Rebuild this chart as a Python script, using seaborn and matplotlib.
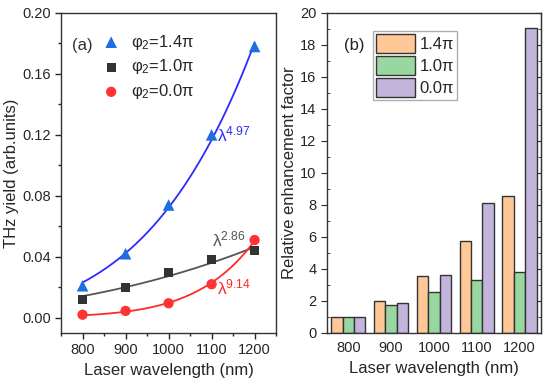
import numpy as np
import pandas as pd
import matplotlib
matplotlib.use('Agg')
import matplotlib.pyplot as plt
from matplotlib.ticker import MultipleLocator
import seaborn as sns

# Panel (a) data
wavelength = [800, 900, 1000, 1100, 1200]
yield_14 = [0.021, 0.042, 0.074, 0.120, 0.178]
yield_10 = [0.012, 0.020, 0.030, 0.038, 0.044]
yield_00 = [0.002, 0.0045, 0.0095, 0.022, 0.051]
exponents = [4.97, 2.86, 9.14]

# Panel (b) data
wl_labels = ['800', '900', '1000', '1100', '1200']
enh_14 = [1.0, 2.0, 3.55, 5.75, 8.55]
enh_10 = [1.0, 1.75, 2.55, 3.3, 3.8]
enh_00 = [1.0, 1.85, 3.65, 8.1, 19.05]
phase_labels = ['1.4π', '1.0π', '0.0π']

sns.set_style('ticks')
plt.rcParams['font.family'] = ['Liberation Sans', 'DejaVu Sans']
plt.rcParams['mathtext.default'] = 'regular'

fig = plt.figure(figsize=(5.5, 3.81), dpi=100)
ax1 = fig.add_axes([0.111, 0.126, 0.391, 0.840])
ax2 = fig.add_axes([0.5945, 0.126, 0.389, 0.840])

# ---- (a) THz yield ----
series = [
    ('φ$_2$=1.4π', yield_14, '^', '#1f6fe0', '#2b2bff', 70),
    ('φ$_2$=1.0π', yield_10, 's', '#333333', '#555555', 42),
    ('φ$_2$=0.0π', yield_00, 'o', '#ff3333', '#ff2a2a', 55),
]
lam = np.array(wavelength, dtype=float)
lam_fine = np.linspace(800, 1200, 200)
for (label, vals, mk, col, lcol, s), p in zip(series, exponents):
    # least-squares fit y = y0 + a * lambda^p with the given exponent
    A = np.column_stack([np.ones_like(lam), (lam / 1200.0) ** p])
    coef, *_ = np.linalg.lstsq(A, np.array(vals), rcond=None)
    fit = coef[0] + coef[1] * (lam_fine / 1200.0) ** p
    sns.lineplot(x=lam_fine, y=fit, ax=ax1, color=lcol, lw=1.3)
    sns.scatterplot(x=wavelength, y=vals, ax=ax1, marker=mk, color=col, s=s,
                    edgecolor='none', label=label, zorder=3)

ax1.set_xlim(750, 1250)
ax1.set_ylim(-0.01, 0.20)
ax1.xaxis.set_major_locator(MultipleLocator(100))
ax1.xaxis.set_minor_locator(MultipleLocator(50))
ax1.yaxis.set_major_locator(MultipleLocator(0.04))
ax1.yaxis.set_minor_locator(MultipleLocator(0.02))
ax1.yaxis.set_major_formatter(matplotlib.ticker.FormatStrFormatter('%.2f'))
ax1.tick_params(which='major', direction='out', length=4, width=1, labelsize=10.5)
ax1.tick_params(which='minor', direction='out', length=2.5, width=1)
ax1.set_xlabel('Laser wavelength (nm)', fontsize=12)
ax1.set_ylabel('THz yield (arb.units)', fontsize=12, labelpad=2)
leg = ax1.legend(loc='upper left', bbox_to_anchor=(0.14, 0.97), frameon=False,
                 fontsize=12, handletextpad=0.6, labelspacing=0.35,
                 borderaxespad=0.2, handlelength=1.2)
ax1.text(0.05, 0.885, '(a)', transform=ax1.transAxes, fontsize=12, color='#333333')
ax1.text(1113, 0.116, 'λ$^{4.97}$', color='#2b2bff', fontsize=12.5)
ax1.text(1100, 0.047, 'λ$^{2.86}$', color='#555555', fontsize=12.5)
ax1.text(1112, 0.015, 'λ$^{9.14}$', color='#ff2a2a', fontsize=12.5)

# ---- (b) enhancement factor ----
df = pd.DataFrame({
    'wavelength': wl_labels * 3,
    'factor': enh_14 + enh_10 + enh_00,
    'phase': [phase_labels[0]] * 5 + [phase_labels[1]] * 5 + [phase_labels[2]] * 5,
})
bar_colors = ['#ffc896', '#98d8a0', '#c3b4dc']
sns.barplot(data=df, x='wavelength', y='factor', hue='phase', ax=ax2,
            palette=bar_colors, edgecolor='#333333', linewidth=1, width=0.8,
            saturation=1)
ax2.set_xlim(-0.5, 4.5)
ax2.set_ylim(0, 20)
ax2.yaxis.set_major_locator(MultipleLocator(2))
ax2.yaxis.set_minor_locator(MultipleLocator(1))
ax2.tick_params(axis='x', length=0, labelsize=10.5, pad=6)
ax2.tick_params(axis='y', which='major', direction='out', length=4, labelsize=10.5)
ax2.tick_params(axis='y', which='minor', direction='in', length=2.5)
ax2r = ax2.secondary_yaxis('right')
ax2r.yaxis.set_major_locator(MultipleLocator(2))
ax2r.yaxis.set_minor_locator(MultipleLocator(1))
ax2r.tick_params(which='major', direction='in', length=4, labelright=False)
ax2r.tick_params(which='minor', direction='in', length=2.5)
ax2.set_xlabel('Laser wavelength (nm)', fontsize=12)
ax2.set_ylabel('Relative enhancement factor', fontsize=12, labelpad=2)
leg2 = ax2.legend(loc='upper left', bbox_to_anchor=(0.2, 0.955), fontsize=12,
                  title=None, frameon=True, fancybox=False, edgecolor='#999999',
                  handlelength=2.3, handleheight=1.35, handletextpad=0.3,
                  labelspacing=0.2, borderpad=0.2, borderaxespad=0.2)
ax2.text(0.08, 0.885, '(b)', transform=ax2.transAxes, fontsize=12, color='#222222')

for ax in (ax1, ax2):
    for sp in ax.spines.values():
        sp.set_color('#333333')
        sp.set_linewidth(1)

fig.savefig('out.png', dpi=100)
